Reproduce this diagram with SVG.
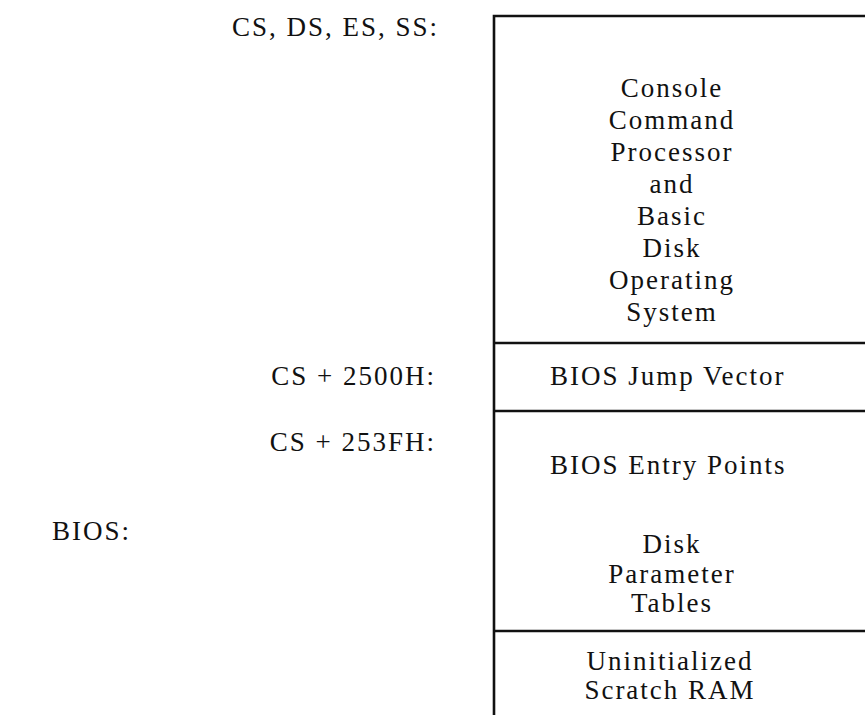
<svg xmlns="http://www.w3.org/2000/svg" width="865" height="715" viewBox="0 0 865 715">
<style>
text{font-family:"Liberation Serif","Times New Roman",serif;font-size:27px;letter-spacing:2px;fill:#111;}
.c{text-anchor:middle;}
.e{text-anchor:end;}
.ln{stroke:#111;stroke-width:2.6;fill:none;}
</style>
<rect width="865" height="715" fill="#fff"/>
<g id="frame">
<path class="ln" d="M494,715 V16 H865"/>
</g>
<g id="ccp">
<text class="c" x="672" y="97">Console</text>
<text class="c" x="672" y="129">Command</text>
<text class="c" x="672" y="161">Processor</text>
<text class="c" x="672" y="193">and</text>
<text class="c" x="672" y="225">Basic</text>
<text class="c" x="672" y="257">Disk</text>
<text class="c" x="672" y="289">Operating</text>
<text class="c" x="672" y="321">System</text>
</g>
<g id="jump">
<path class="ln" d="M494,343 H865"/>
<text x="550" y="385">BIOS Jump Vector</text>
</g>
<g id="entry">
<path class="ln" d="M494,411 H865"/>
<text x="550" y="474">BIOS Entry Points</text>
<text class="c" x="672" y="553">Disk</text>
<text class="c" x="672" y="583">Parameter</text>
<text class="c" x="672" y="612">Tables</text>
</g>
<g id="scratch">
<path class="ln" d="M494,631 H865"/>
<text class="c" x="670" y="670">Uninitialized</text>
<text class="c" x="670" y="699">Scratch RAM</text>
</g>
<g id="labels">
<text x="232" y="36">CS, DS, ES, SS:</text>
<text class="e" x="436" y="385">CS + 2500H:</text>
<text class="e" x="436" y="451">CS + 253FH:</text>
<text x="52" y="540">BIOS:</text>
</g>
</svg>
